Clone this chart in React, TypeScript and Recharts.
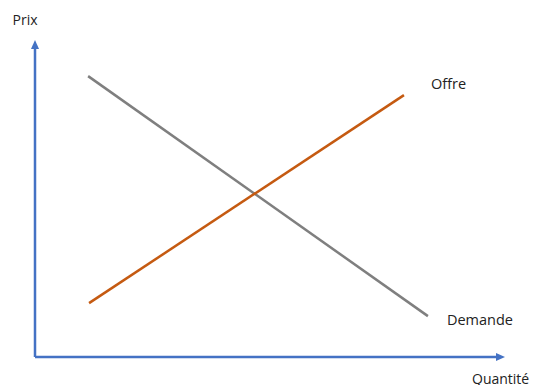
import React from 'react'
import { LineChart, Line, XAxis, YAxis, ReferenceLine } from 'recharts'

const quantiteDomain = [0, 10]
const prixDomain = [0, 10]

const offre = [
  { q: 1.15, p: 1.7 },
  { q: 7.85, p: 8.26 },
]
const demande = [
  { q: 1.13, p: 8.86 },
  { q: 8.36, p: 1.29 },
]

const axisBlue = '#4472C4'
const font = "'Open Sans', sans-serif"

const AxisArrow = (props: any) => {
  const { x1, y1, x2, y2, text, dx, dy, anchor } = props
  const ang = Math.atan2(y2 - y1, x2 - x1)
  const len = 9
  const half = 4
  const bx = x2 - len * Math.cos(ang)
  const by = y2 - len * Math.sin(ang)
  const px = -Math.sin(ang) * half
  const py = Math.cos(ang) * half
  return (
    <g>
      <line x1={x1} y1={y1} x2={bx} y2={by} stroke={axisBlue} strokeWidth={2.5} />
      <polygon
        points={`${x2},${y2} ${bx + px},${by + py} ${bx - px},${by - py}`}
        fill={axisBlue}
      />
      <text x={x2 + dx} y={y2 + dy} textAnchor={anchor} dominantBaseline="central"
        fontFamily={font} fontSize={14} fill="#222">
        {text}
      </text>
    </g>
  )
}

const endLabel = (text: string, last: number, dx: number, dy: number) => (props: any) => {
  if (props.index !== last) return null
  return (
    <text x={props.x + dx} y={props.y + dy} dominantBaseline="central"
      fontFamily={font} fontSize={14.5} fill="#222">
      {text}
    </text>
  )
}

export default function App() {
  return (
    <div style={{ width: 533, height: 385, overflow: 'hidden' }}>
      <style>{'body{margin:0;overflow:hidden}'}</style>
      <LineChart width={533} height={385} margin={{ top: 40, right: 28, bottom: 28, left: 35 }}>
        <XAxis type="number" dataKey="q" domain={quantiteDomain} hide allowDataOverflow />
        <YAxis type="number" dataKey="p" domain={prixDomain} hide allowDataOverflow />
        <ReferenceLine
          segment={[{ x: 0, y: 0 }, { x: 10, y: 0 }]}
          ifOverflow="visible"
          shape={(p: any) => <AxisArrow {...p} text="Quantité" dx={-33} dy={21} anchor="start" />}
        />
        <ReferenceLine
          segment={[{ x: 0, y: 0 }, { x: 0, y: 10 }]}
          ifOverflow="visible"
          shape={(p: any) => <AxisArrow {...p} text="Prix" dx={-10} dy={-21} anchor="middle" />}
        />
        <Line
          data={demande}
          dataKey="p"
          stroke="#7F7F7F"
          strokeWidth={2.5}
          dot={false}
          isAnimationActive={false}
          label={endLabel('Demande', demande.length - 1, 19, 3)}
        />
        <Line
          data={offre}
          dataKey="p"
          stroke="#C55A11"
          strokeWidth={2.5}
          dot={false}
          isAnimationActive={false}
          label={endLabel('Offre', offre.length - 1, 27, -12)}
        />
      </LineChart>
    </div>
  )
}
